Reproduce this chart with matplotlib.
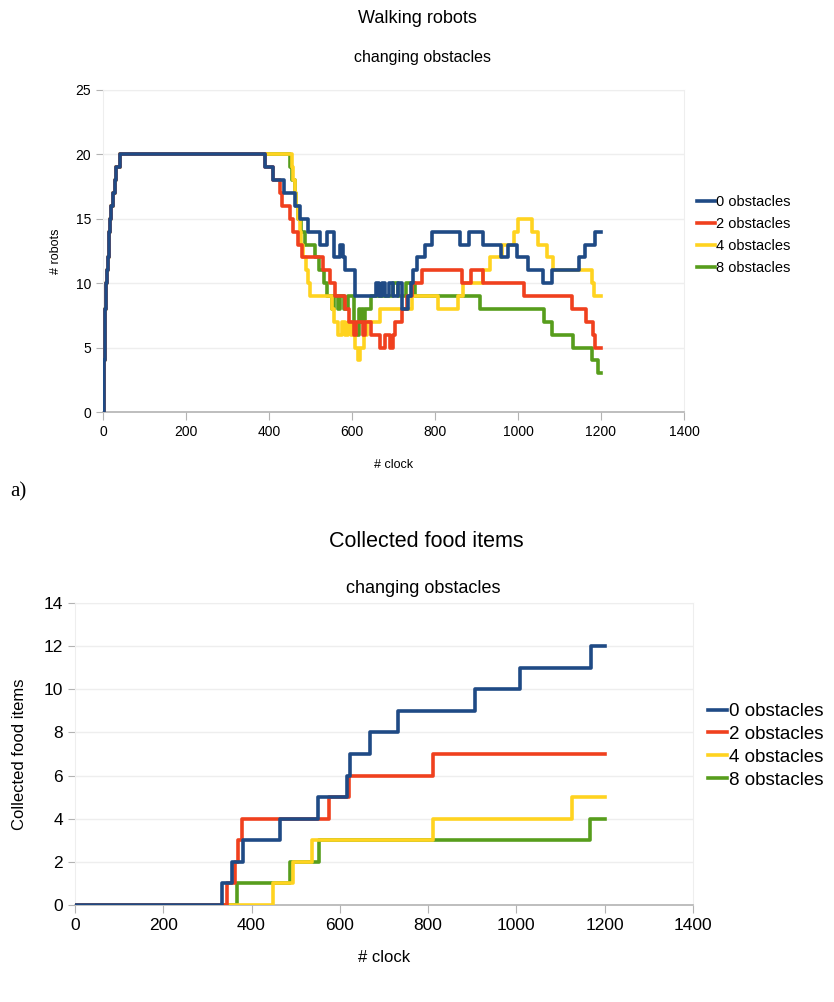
import matplotlib.pyplot as plt

plt.rcParams['font.family'] = ['Liberation Sans', 'DejaVu Sans']

# colours of the four series
colors = ['#1f4a85', '#f0401e', '#ffd320', '#579d1c']
labels = ['0 obstacles', '2 obstacles', '4 obstacles', '8 obstacles']

# common start of the walking robots runs (clock, robots)
start_t = [0, 2, 3, 5, 6, 8, 10, 12, 14, 16, 20, 24, 28, 32, 40]
start_v = [0, 2, 4, 6, 8, 10, 11, 12, 14, 15, 16, 17, 18, 19, 20]

# walking robots, step change points after the start
walk0_t = [390, 410, 437, 462, 475, 495, 523, 539, 557, 571, 579, 583, 607, 659, 665,
           672, 680, 690, 700, 712, 720, 735, 742, 747, 757, 776, 793, 860, 882, 916,
           958, 977, 997, 1025, 1060, 1082, 1148, 1162, 1186, 1200]
walk0_v = [19, 18, 17, 16, 15, 14, 13, 14, 12, 13, 12, 11, 9, 10, 9,
           10, 9, 10, 9, 10, 8, 9, 10, 11, 12, 13, 14, 13, 14, 13,
           12, 13, 12, 11, 10, 11, 12, 13, 14, 14]

walk2_t = [390, 410, 427, 432, 450, 458, 470, 480, 530, 546, 558, 582, 594, 605, 610,
           627, 632, 647, 667, 679, 691, 698, 704, 720, 732, 744, 768, 864, 886, 916,
           1014, 1129, 1165, 1180, 1186, 1200]
walk2_v = [19, 18, 17, 16, 15, 14, 13, 12, 11, 10, 9, 8, 7, 6, 7,
           6, 7, 6, 5, 6, 5, 6, 7, 8, 9, 10, 11, 10, 11, 10,
           9, 8, 7, 6, 5, 5]

walk4_t = [455, 458, 462, 466, 470, 474, 478, 482, 488, 494, 499, 551, 556, 567, 575,
           582, 590, 597, 607, 615, 619, 630, 637, 667, 744, 807, 856, 867, 916, 932,
           962, 990, 1000, 1033, 1049, 1069, 1085, 1178, 1183, 1200]
walk4_v = [19, 18, 17, 16, 15, 14, 13, 12, 11, 10, 9, 8, 7, 6, 7,
           6, 7, 6, 5, 4, 5, 6, 7, 8, 9, 8, 9, 10, 11, 12,
           13, 14, 15, 14, 13, 12, 11, 10, 9, 9]

walk8_t = [450, 455, 462, 466, 470, 478, 487, 510, 520, 532, 540, 552, 556, 566, 572,
           580, 590, 604, 616, 620, 624, 627, 632, 645, 700, 711, 730, 752, 908, 1062,
           1081, 1133, 1178, 1194, 1200]
walk8_v = [19, 18, 17, 16, 15, 14, 13, 12, 11, 10, 9, 8, 9, 8, 9,
           8, 9, 6, 8, 7, 8, 7, 8, 9, 10, 9, 10, 9, 8, 7,
           6, 5, 4, 3, 3]

# collected food items, step change points
food0_t = [0, 333, 356, 380, 464, 551, 616, 622, 668, 732, 906, 1008, 1170, 1200]
food0_v = [0, 1, 2, 3, 4, 5, 6, 7, 8, 9, 10, 11, 12, 12]
food2_t = [0, 345, 362, 370, 378, 575, 620, 810, 1200]
food2_v = [0, 1, 2, 3, 4, 5, 6, 7, 7]
food4_t = [0, 448, 494, 536, 812, 1125, 1200]
food4_v = [0, 1, 2, 3, 4, 5, 5]
food8_t = [0, 366, 487, 553, 1167, 1200]
food8_v = [0, 1, 2, 3, 4, 4]

xticks = [0, 200, 400, 600, 800, 1000, 1200, 1400]
zorders = [6, 5, 4, 3]   # first series drawn on top

fig = plt.figure(figsize=(8.34, 10.02), dpi=100)


def style_axes(ax, fs):
    ax.set_xlim(0, 1400)
    ax.set_xticks(xticks)
    ax.grid(axis='y', color='#eeeeee', lw=1)
    ax.set_axisbelow(True)
    for s in ['top', 'right', 'left']:
        ax.spines[s].set_color('#eeeeee')
    ax.spines['bottom'].set_color('#b3b3b3')
    ax.spines['bottom'].set_linewidth(1.2)
    ax.tick_params(axis='x', colors='#b3b3b3', length=6, labelcolor='black', labelsize=fs)
    ax.tick_params(axis='y', colors='#b3b3b3', length=5, labelcolor='black', labelsize=fs)


# top chart
ax1 = fig.add_axes([0.1235, 0.5888, 0.6966, 0.3214])
walk_t = [walk0_t, walk2_t, walk4_t, walk8_t]
walk_v = [walk0_v, walk2_v, walk4_v, walk8_v]
for t, v, c, lab, z in zip(walk_t, walk_v, colors, labels, zorders):
    ax1.plot(start_t + t, start_v + v, drawstyle='steps-post', color=c, lw=2.6,
             label=lab, zorder=z)
ax1.set_ylim(0, 25)
ax1.set_yticks([0, 5, 10, 15, 20, 25])
style_axes(ax1, 10)
ax1.set_xlabel('# clock', fontsize=9, labelpad=14)
ax1.set_ylabel('# robots', fontsize=9, labelpad=10)
ax1.legend(loc='center left', bbox_to_anchor=(1.0, 0.55), frameon=False, fontsize=10.5,
           handlelength=1.2, handletextpad=0.1, labelspacing=0.55, borderaxespad=0.5)
fig.text(0.5, 0.982, 'Walking robots', ha='center', va='center', fontsize=13)
fig.text(0.507, 0.943, 'changing obstacles', ha='center', va='center', fontsize=11.5)

fig.text(0.012, 0.509, 'a)', ha='left', va='center', fontsize=15, family='Liberation Serif')

# bottom chart
ax2 = fig.add_axes([0.0899, 0.0968, 0.741, 0.3014])
food_t = [food0_t, food2_t, food4_t, food8_t]
food_v = [food0_v, food2_v, food4_v, food8_v]
for t, v, c, lab, z in zip(food_t, food_v, colors, labels, zorders):
    ax2.plot(t, v, drawstyle='steps-post', color=c, lw=2.6, label=lab, zorder=z)
ax2.set_ylim(0, 14)
ax2.set_yticks(range(0, 15, 2))
style_axes(ax2, 12.5)
ax2.set_xlabel('# clock', fontsize=12, labelpad=12)
ax2.set_ylabel('Collected food items', fontsize=12, labelpad=12)
ax2.legend(loc='center left', bbox_to_anchor=(1.0, 0.527), frameon=False, fontsize=13.5,
           handlelength=1.0, handletextpad=0.1, labelspacing=0.3, borderaxespad=0.4)
fig.text(0.511, 0.46, 'Collected food items', ha='center', va='center', fontsize=15.5)
fig.text(0.508, 0.413, 'changing obstacles', ha='center', va='center', fontsize=13)

fig.savefig('out.png', dpi=100)
